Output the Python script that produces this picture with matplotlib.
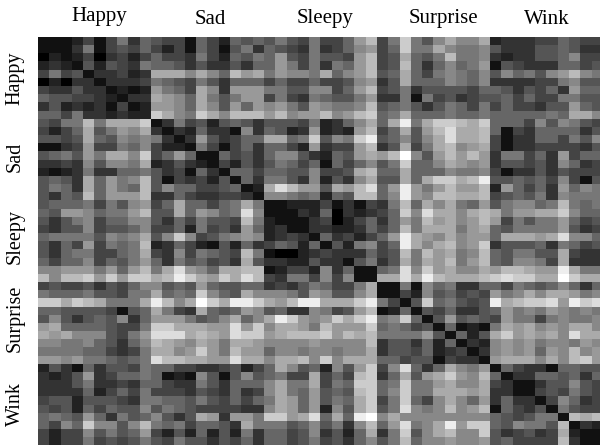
import numpy as np
import matplotlib
matplotlib.use("Agg")
import matplotlib.pyplot as plt

plt.rcParams['font.family'] = ['Liberation Serif']

class_names = ["Happy", "Sad", "Sleepy", "Surprise", "Wink"]
top_label_x = [99, 210, 325, 443, 547]
top_label_y = [16, 19, 19, 19, 19]
side_label_y = [78, 157, 236, 318, 404]

# grey level of each cell, one hex digit per cell (0 black, f white)
# columns 0-16
cells_left = [
    "11124147365441642", "11137145464241641", "02124034246443742", "23215254376653533",
    "4745133423aaa8a86", "02033133347654753", "43353312129764a83", "6554432133a986a75",
    "35232314129986a85", "6647332322ca87ca8", "5477b7aaac1374525", "4246a5798a3132633",
    "5545a658787313953", "11349447684221741", "567597aa8c4696116", "334385887a2353214",
    "21237336675341631", "5653a6978b5143425", "5763a6976b5866445", "5365b6999b3364334",
    "566674758946a6646", "659986779b55a6986", "53578466885364755", "43558455684462745",
    "677775878a58c8457", "536494767b2364215", "536774467a4384765", "64668465796375645",
    "889997969b7ad986a", "b8bbc9c9ccabeca9c", "45445354688565965", "7666755477a676c86",
    "ccacba777aeb8afca", "6655554156a743a65", "58535658369997568", "9a66665447ccaaa99",
    "a9a8885479dddaba9", "8877865368ba98a97", "7777664347aa89c97", "9989776567dbbaa99",
    "25316355476644334", "32359346676121851", "33357334366433753", "33336246474443543",
    "45525554377665754", "54526465585765444", "67659637568535a93", "6486c8858b7674665",
    "42448575694252625", "42447454575475535",
]
# columns 17-33
cells_mid = [
    "656575474469b47c7", "573654373468946c7", "657695475549b45a6", "536697473769b45b6",
    "b9a79887a689b56a6", "666464464458935a6", "999775588469b4573", "79947437655793371",
    "969897598778b5675", "bbb9b899b89bc67a6", "653555472368a6ae7", "183652392329b46a5",
    "466aa67c587ce5685", "463664293449b35a4", "453688532659a9bf8", "253576461646857c6",
    "66466558445ab66a6", "163775382538a55a6", "612adb995a9bd69e9", "43188767265bb68e9",
    "7a7112224131437b6", "7d8111326032346c8", "4b721113402463697", "396231133223646b7",
    "898234316342469ea", "263465261527846ea", "4b7100234333645b7", "3a5332253315735a7",
    "abb124428361167d8", "adb4377484811aada", "566343576447a1171", "5a8887598558a1142",
    "eeca9beeaaace7415", "698563387459b1261", "a68aec989cace78c6", "d9c8aa97b999c6764",
    "dcc9abbbc9bab7777", "aa9888898888b3553", "b99688788788a3554", "daa8aab8c8aaa6645",
    "5246a8562859c48d6", "5856744a464bc36a5", "6668a77a476cc67c7", "6348a769565bc68c7",
    "6467a969576ac47c6", "4338a969285ac57d8", "997cc9ad6a6ef8a88", "3a7775685738b69d7",
    "273664583526a37c5", "463664574536857b6",
]
# columns 34-49
cells_right = [
    "58a88a2333446544", "7a87785333556533", "57b7783233556844", "3686791543336645",
    "4787685867589b87", "6687683333447855", "5555466535463966", "7453455646447755",
    "3576474644355965", "6676676666676aa8", "accbac6664858754", "9bdaab6143666635",
    "8adaab4133664758", "7ab89a4133444435", "59b9b93774639466", "68a9893554538634",
    "6687784133535444", "accabe5565648415", "79b99b2964639687", "8bbaab4565738777",
    "a8a769578867b767", "daa8aba799aac866", "b9a89b9475779645", "aaa79a6577779534",
    "98a8996aaa9ad886", "8ab89c3555637645", "b9a78b657755a433", "a9b79b658874a333",
    "c9a88a9bba99ea77", "ebaaabcdccaafcaa", "8673366476568636", "856454978a8aa978",
    "c67545eabccd9ecd", "5463356978798787", "1595654977478778", "5161217a9a898aa8",
    "951625ac9a9a8daa", "6261328989788798", "6234138989698b89", "5143319aaa8a8bc9",
    "36a8791643316655", "9ac98b6133665636", "79a88a4311355854", "7aaa9a3311454754",
    "48a8693633148634", "78b89b1643517544", "8888886545771bab", "8ae9cc658775b132",
    "8ab88c534534a211", "889889564444b311",
]

matrix = np.array([[int(c, 16) for c in a + b + d]
                   for a, b, d in zip(cells_left, cells_mid, cells_right)])

W, H = 600, 445
fig = plt.figure(figsize=(W / 100, H / 100), dpi=100)

# the last column runs off the right side of the picture
ax = fig.add_axes([38 / W, 0, (W - 38) / W, (H - 37) / H])
ax.imshow(matrix, cmap='gray', vmin=0, vmax=15, aspect='auto',
          interpolation='nearest', extent=(0, 50, 50, 0))
ax.set_xlim(0, (W - 38) / 11.3)
ax.set_ylim((H - 37) / 8.17, 0)
ax.axis('off')

for name, x, y in zip(class_names, top_label_x, top_label_y):
    fig.text(x / W, 1 - y / H, name, ha='center', va='center', fontsize=15)
for name, y in zip(class_names, side_label_y):
    fig.text(15 / W, 1 - y / H, name, ha='center', va='center', fontsize=14.5, rotation=90)

fig.savefig("out.png", dpi=100)
